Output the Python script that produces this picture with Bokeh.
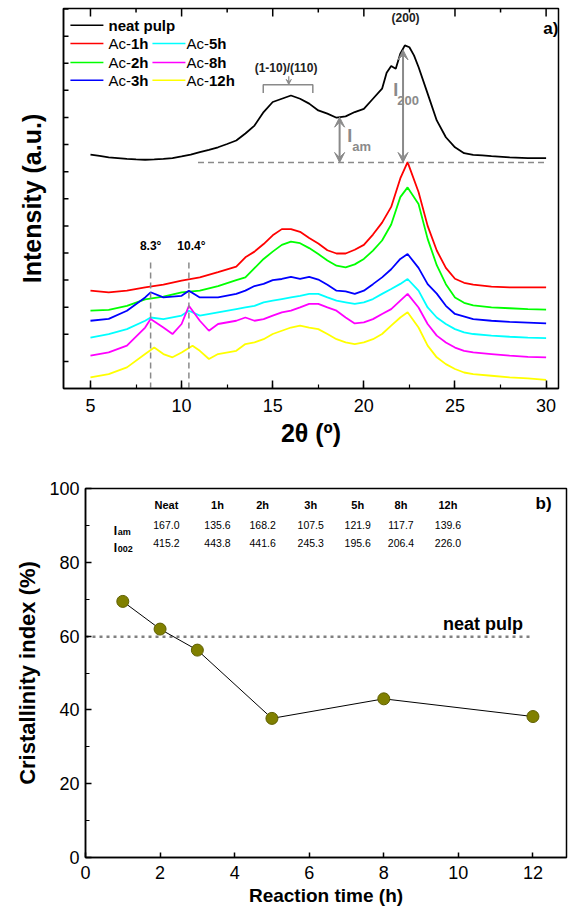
import math
from bokeh.plotting import figure
from bokeh.models import Range1d, FixedTicker, SingleIntervalTicker, Arrow, VeeHead
from bokeh.core.properties import value
from bokeh.embed import file_html
from bokeh.resources import INLINE

FONT = "Liberation Sans"
GRAY = "#8a8a8a"

# ---------------- XRD patterns (2-theta in degrees, intensity in counts, stacked) ----------------
neat_x = [5, 5.5, 6, 6.5, 7, 7.5, 8, 8.5, 9, 9.5, 10, 10.5, 11, 11.5, 12, 12.5, 13, 13.5, 14, 14.5,
          15, 15.5, 16, 16.5, 17, 17.5, 18, 18.5, 19, 19.5, 20, 20.5, 21, 21.25, 21.5, 21.75, 22, 22.25,
          22.5, 22.75, 23, 23.5, 24, 24.5, 25, 25.5, 26, 26.5, 27, 28, 29, 30]
neat_y = [863, 858, 853, 850, 847, 845, 844, 845, 847, 850, 856, 863, 872, 880, 890, 902, 915, 941, 970, 1020,
          1057, 1069, 1081, 1069, 1051, 1026, 1014, 999, 1004, 1020, 1032, 1069, 1106, 1165, 1190, 1180, 1235, 1266,
          1259, 1229, 1186, 1088, 989, 927, 890, 868, 862, 860, 857, 853, 850, 850]

h1_x = [5, 6, 7, 8, 9, 10, 11, 12, 13, 13.5, 14, 14.5, 15, 15.5, 16, 16.5, 17, 17.5, 18, 18.5,
        19, 19.5, 20, 20.5, 21, 21.5, 22, 22.4, 23, 23.5, 24, 24.5, 25, 25.5, 26, 27, 28, 29, 30]
h1_y = [361, 355, 361, 373, 383, 398, 410, 429, 450, 484, 505, 533, 565, 588, 588, 578, 555, 535, 510, 498,
        498, 512, 530, 568, 612, 670, 775, 835, 725, 600, 509, 445, 405, 390, 383, 376, 373, 373, 373]

h2_x = [5, 6, 7, 8, 9, 10, 11, 12, 13, 13.5, 14, 14.5, 15, 15.5, 16, 16.5, 17, 17.5, 18, 18.5,
        19, 19.5, 20, 20.5, 21, 21.5, 22, 22.4, 23, 23.5, 24, 24.5, 25, 25.5, 26, 27, 28, 29, 30]
h2_y = [287, 290, 305, 329, 339, 355, 361, 378, 400, 410, 444, 478, 505, 530, 542, 536, 518, 496, 472, 453,
        447, 458, 478, 509, 546, 605, 706, 742, 681, 552, 455, 385, 336, 316, 307, 299, 296, 293, 291]

h3_x = [5, 6, 7, 8, 8.3, 9, 10, 10.4, 11, 12, 13, 13.5, 14, 14.5, 15, 15.5, 16, 16.5, 17, 17.5,
        18, 18.5, 19, 19.5, 20, 20.5, 21, 21.5, 22, 22.4, 23, 23.5, 24, 24.5, 25, 26, 27, 28, 29, 30]
h3_y = [250, 257, 287, 336, 355, 336, 342, 361, 336, 336, 349, 361, 378, 386, 400, 404, 412, 404, 412, 402,
        383, 361, 358, 349, 361, 385, 410, 440, 478, 496, 445, 385, 350, 305, 275, 256, 250, 246, 243, 240]

h5_x = [5, 6, 7, 8, 8.3, 9, 10, 10.4, 11, 12, 13, 13.5, 14, 14.5, 15, 15.5, 16, 16.5, 17, 17.5,
        18, 18.5, 19, 19.5, 20, 20.5, 21, 21.5, 22, 22.4, 23, 23.5, 24, 24.5, 25, 25.5, 26, 27, 28, 29, 30]
h5_y = [188, 201, 219, 250, 262, 256, 269, 287, 269, 281, 293, 299, 305, 318, 324, 330, 336, 342, 349, 349,
        336, 324, 318, 312, 318, 330, 349, 367, 386, 404, 361, 299, 262, 238, 219, 207, 201, 195, 191, 188, 186]

h8_x = [5, 6, 7, 8, 8.3, 9, 9.5, 10, 10.4, 11, 11.5, 12, 13, 13.5, 14, 14.5, 15, 15.5, 16, 16.5,
        17, 17.5, 18, 18.5, 19, 19.5, 20, 20.5, 21, 21.5, 22, 22.4, 23, 23.5, 24, 24.5, 25, 25.5, 26, 27,
        28, 29, 30]
h8_y = [121, 133, 158, 225, 256, 225, 201, 238, 305, 250, 213, 238, 250, 262, 250, 256, 269, 281, 287, 299,
        312, 312, 299, 287, 262, 240, 244, 256, 275, 293, 324, 349, 299, 238, 195, 170, 151, 139, 133, 127,
        121, 117, 115]

h12_x = [5, 6, 7, 8, 8.5, 9, 9.5, 10, 10.6, 11, 11.5, 12, 13, 13.5, 14, 14.5, 15, 15.5, 16, 16.5,
         17, 17.5, 18, 18.5, 19, 19.5, 20, 20.5, 21, 21.5, 22, 22.4, 23, 23.5, 24, 24.5, 25, 25.5, 26, 27,
         28, 29, 30]
h12_y = [41, 53, 78, 127, 151, 127, 115, 133, 158, 139, 109, 127, 139, 164, 170, 182, 201, 213, 225, 232,
         225, 219, 201, 182, 170, 164, 170, 182, 201, 232, 262, 281, 225, 158, 115, 90, 72, 59, 53, 47,
         41, 37, 32]

series_names = ["neat pulp", "Ac-1h", "Ac-2h", "Ac-3h", "Ac-5h", "Ac-8h", "Ac-12h"]
series_x = [neat_x, h1_x, h2_x, h3_x, h5_x, h8_x, h12_x]
series_y = [neat_y, h1_y, h2_y, h3_y, h5_y, h8_y, h12_y]
series_colors = ["#000000", "#ff0000", "#00ff00", "#0000ff", "#00ffff", "#ff00ff", "#ffff00"]

# amorphous background level of the neat pulp pattern (counts)
neat_base = 834

# ---------------- Crystallinity table and index ----------------
table_cols = ["Neat", "1h", "2h", "3h", "5h", "8h", "12h"]
i_am = [167.0, 135.6, 168.2, 107.5, 121.9, 117.7, 139.6]
i_002 = [415.2, 443.8, 441.6, 245.3, 195.6, 206.4, 226.0]

time_h = [1, 2, 3, 5, 8, 12]
cryst_index = [69.4, 61.9, 56.2, 37.7, 43.0, 38.2]
neat_index = 59.8


def txt(p, x, y, s, size, bold=False, color="black", align="left", baseline="middle", xoff=0, yoff=0):
    p.text(x=[x], y=[y], text=[s], text_font=value(FONT), text_font_size=size,
           text_font_style="bold" if bold else "normal", text_color=color,
           text_align=align, text_baseline=baseline, x_offset=xoff, y_offset=yoff)


def base_style(p):
    p.grid.visible = False
    p.outline_line_color = "black"
    p.outline_line_width = 1.5
    p.background_fill_color = "white"
    p.border_fill_color = "white"
    for ax in p.axis:
        ax.axis_line_width = 1.5
        ax.major_tick_line_width = 1.5
        ax.minor_tick_line_width = 1.2
        ax.major_tick_out = 0
        ax.minor_tick_out = 0
        ax.major_label_text_font = FONT
        ax.major_label_text_font_size = "18px"
        ax.major_label_text_color = "black"
        ax.axis_label_text_font = FONT
        ax.axis_label_text_font_style = "bold"
        ax.axis_label_text_color = "black"


def ticks(p, xs, ys, length, angle):
    p.ray(x=xs, y=ys, length=length, length_units="screen", angle=angle,
          line_color="black", line_width=1.5)


# ================= a) XRD patterns =================
X0, X1, Y0, Y1 = 3.52, 30.68, 0, 1402
p1 = figure(width=573, height=455, x_range=Range1d(X0, X1), y_range=Range1d(Y0, Y1),
            output_backend="svg", toolbar_location=None,
            min_border_left=63, min_border_right=15, min_border_top=8, min_border_bottom=67)
base_style(p1)

xa = p1.xaxis[0]
xa.ticker = SingleIntervalTicker(interval=5, num_minor_ticks=2)
xa.major_tick_in = 8
xa.minor_tick_in = 4
xa.major_label_standoff = 10
xa.axis_label = "2θ (º)"
xa.axis_label_text_font_size = "25px"
xa.axis_label_standoff = 4

ya = p1.yaxis[0]
ya.ticker = FixedTicker(ticks=[])
ya.major_label_standoff = 0
ya.axis_label = "Intensity (a.u.)"
ya.axis_label_text_font_size = "25px"
ya.axis_label_standoff = 18

# inner tick marks on the unlabeled sides
yt = list(range(100, 1401, 100))
ticks(p1, [X0] * len(yt), yt, 5, 0)
major_x = [5, 10, 15, 20, 25, 30]
minor_x = [7.5, 12.5, 17.5, 22.5, 27.5]
ticks(p1, major_x, [Y1] * len(major_x), 8, -math.pi / 2)
ticks(p1, minor_x, [Y1] * len(minor_x), 4, -math.pi / 2)

for xs, ys, c in zip(series_x, series_y, series_colors):
    p1.line(xs, ys, line_color=c, line_width=1.8)

# reference lines
p1.line([10.9, 30], [neat_base, neat_base], line_color=GRAY, line_width=1.5, line_dash="6 4")
for xv in (8.3, 10.4):
    p1.line([xv, xv], [0, 479], line_color=GRAY, line_width=1.5, line_dash="6 4")
txt(p1, 8.3, 527, "8.3°", "12px", bold=True, align="center")
txt(p1, 10.54, 527, "10.4°", "12px", bold=True, align="center")

# I_am and I_200 arrows
for xv, h in ((18.67, i_am[0]), (22.15, i_002[0])):
    p1.add_layout(Arrow(start=VeeHead(size=10, fill_color=GRAY, line_color=GRAY),
                        end=VeeHead(size=10, fill_color=GRAY, line_color=GRAY),
                        x_start=xv, y_start=neat_base, x_end=xv, y_end=neat_base + h,
                        line_color=GRAY, line_width=2))
txt(p1, 19.09, 930, "I", "18px", bold=True, color=GRAY)
txt(p1, 19.09, 893, "am", "13px", bold=True, color=GRAY, xoff=5)
txt(p1, 21.61, 1100, "I", "18px", bold=True, color=GRAY)
txt(p1, 21.61, 1061, "200", "13px", bold=True, color=GRAY, xoff=4)

# reflection labels
p1.line([14.48, 14.48, 17.2, 17.2], [1090, 1121, 1121, 1090], line_color=GRAY, line_width=1.5)
p1.add_layout(Arrow(end=VeeHead(size=5, fill_color=GRAY, line_color=GRAY),
                    x_start=15.88, y_start=1152, x_end=15.88, y_end=1122,
                    line_color=GRAY, line_width=1.2))
txt(p1, 15.73, 1182, "(1-10)/(110)", "12px", bold=True, color="#222222", align="center")
txt(p1, 22.29, 1368, "(200)", "12px", bold=True, color="#222222", align="center")
txt(p1, 29.85, 1329, "a)", "17px", bold=True)

# legend
leg_rows = [1340, 1273, 1203, 1137]
leg_cols = [(3.90, 5.71, 5.99), (8.40, 10.21, 10.27)]
slots = [(0, 0), (0, 1), (0, 2), (0, 3), (1, 1), (1, 2), (1, 3)]
for name, c, (ci, ri) in zip(series_names, series_colors, slots):
    x0, x1, xt = leg_cols[ci]
    yv = leg_rows[ri]
    p1.line([x0, x1], [yv, yv], line_color=c, line_width=1.5)
    if name.startswith("Ac-"):
        txt(p1, xt, yv, "Ac-", "15px")
        txt(p1, xt, yv, name[3:], "15px", bold=True, xoff=22.5)
    else:
        txt(p1, xt, yv, name, "15px", bold=True)

# ================= b) Crystallinity index =================
p2 = figure(width=573, height=457, x_range=Range1d(0, 12.9), y_range=Range1d(0, 100),
            output_backend="svg", toolbar_location=None,
            min_border_left=85, min_border_right=7, min_border_top=33, min_border_bottom=55)
base_style(p2)

xb = p2.xaxis[0]
xb.ticker = SingleIntervalTicker(interval=2, num_minor_ticks=0)
xb.major_tick_in = 5
xb.major_label_standoff = 8
xb.axis_label = "Reaction time (h)"
xb.axis_label_text_font_size = "19px"
xb.axis_label_standoff = 3

yb = p2.yaxis[0]
yb.ticker = SingleIntervalTicker(interval=20, num_minor_ticks=2)
yb.major_tick_in = 6
yb.minor_tick_in = 4
yb.major_label_standoff = 6
yb.axis_label = "Cristallinity index (%)"
yb.axis_label_text_font_size = "22px"
yb.axis_label_standoff = 6

p2.line([0, 12], [neat_index, neat_index], line_color="#808080", line_width=2.5, line_dash="3 4")
txt(p2, 9.59, 63.3, "neat pulp", "18px", bold=True)

p2.line(time_h, cryst_index, line_color="black", line_width=1)
p2.scatter(time_h, cryst_index, size=12, fill_color="#808000", line_color="#5f5f00", line_width=1)

# table of peak intensities
col_pos = [2.17, 3.54, 4.75, 6.04, 7.30, 8.46, 9.72]
for xp, head, a, b in zip(col_pos, table_cols, i_am, i_002):
    txt(p2, xp, 95.5, head, "11px", bold=True, align="center")
    txt(p2, xp, 90.2, f"{a:.1f}", "10.5px", align="center")
    txt(p2, xp, 85.3, f"{b:.1f}", "10.5px", align="center")
txt(p2, 0.76, 88.6, "I", "12px", bold=True, baseline="alphabetic")
txt(p2, 0.76, 88.3, "am", "9px", bold=True, baseline="alphabetic", xoff=4)
txt(p2, 0.76, 84.0, "I", "12px", bold=True, baseline="alphabetic")
txt(p2, 0.76, 83.7, "002", "9px", bold=True, baseline="alphabetic", xoff=4)
txt(p2, 12.07, 95.9, "b)", "17px", bold=True)

open("out.html", "w").write(file_html([p1, p2], INLINE))
